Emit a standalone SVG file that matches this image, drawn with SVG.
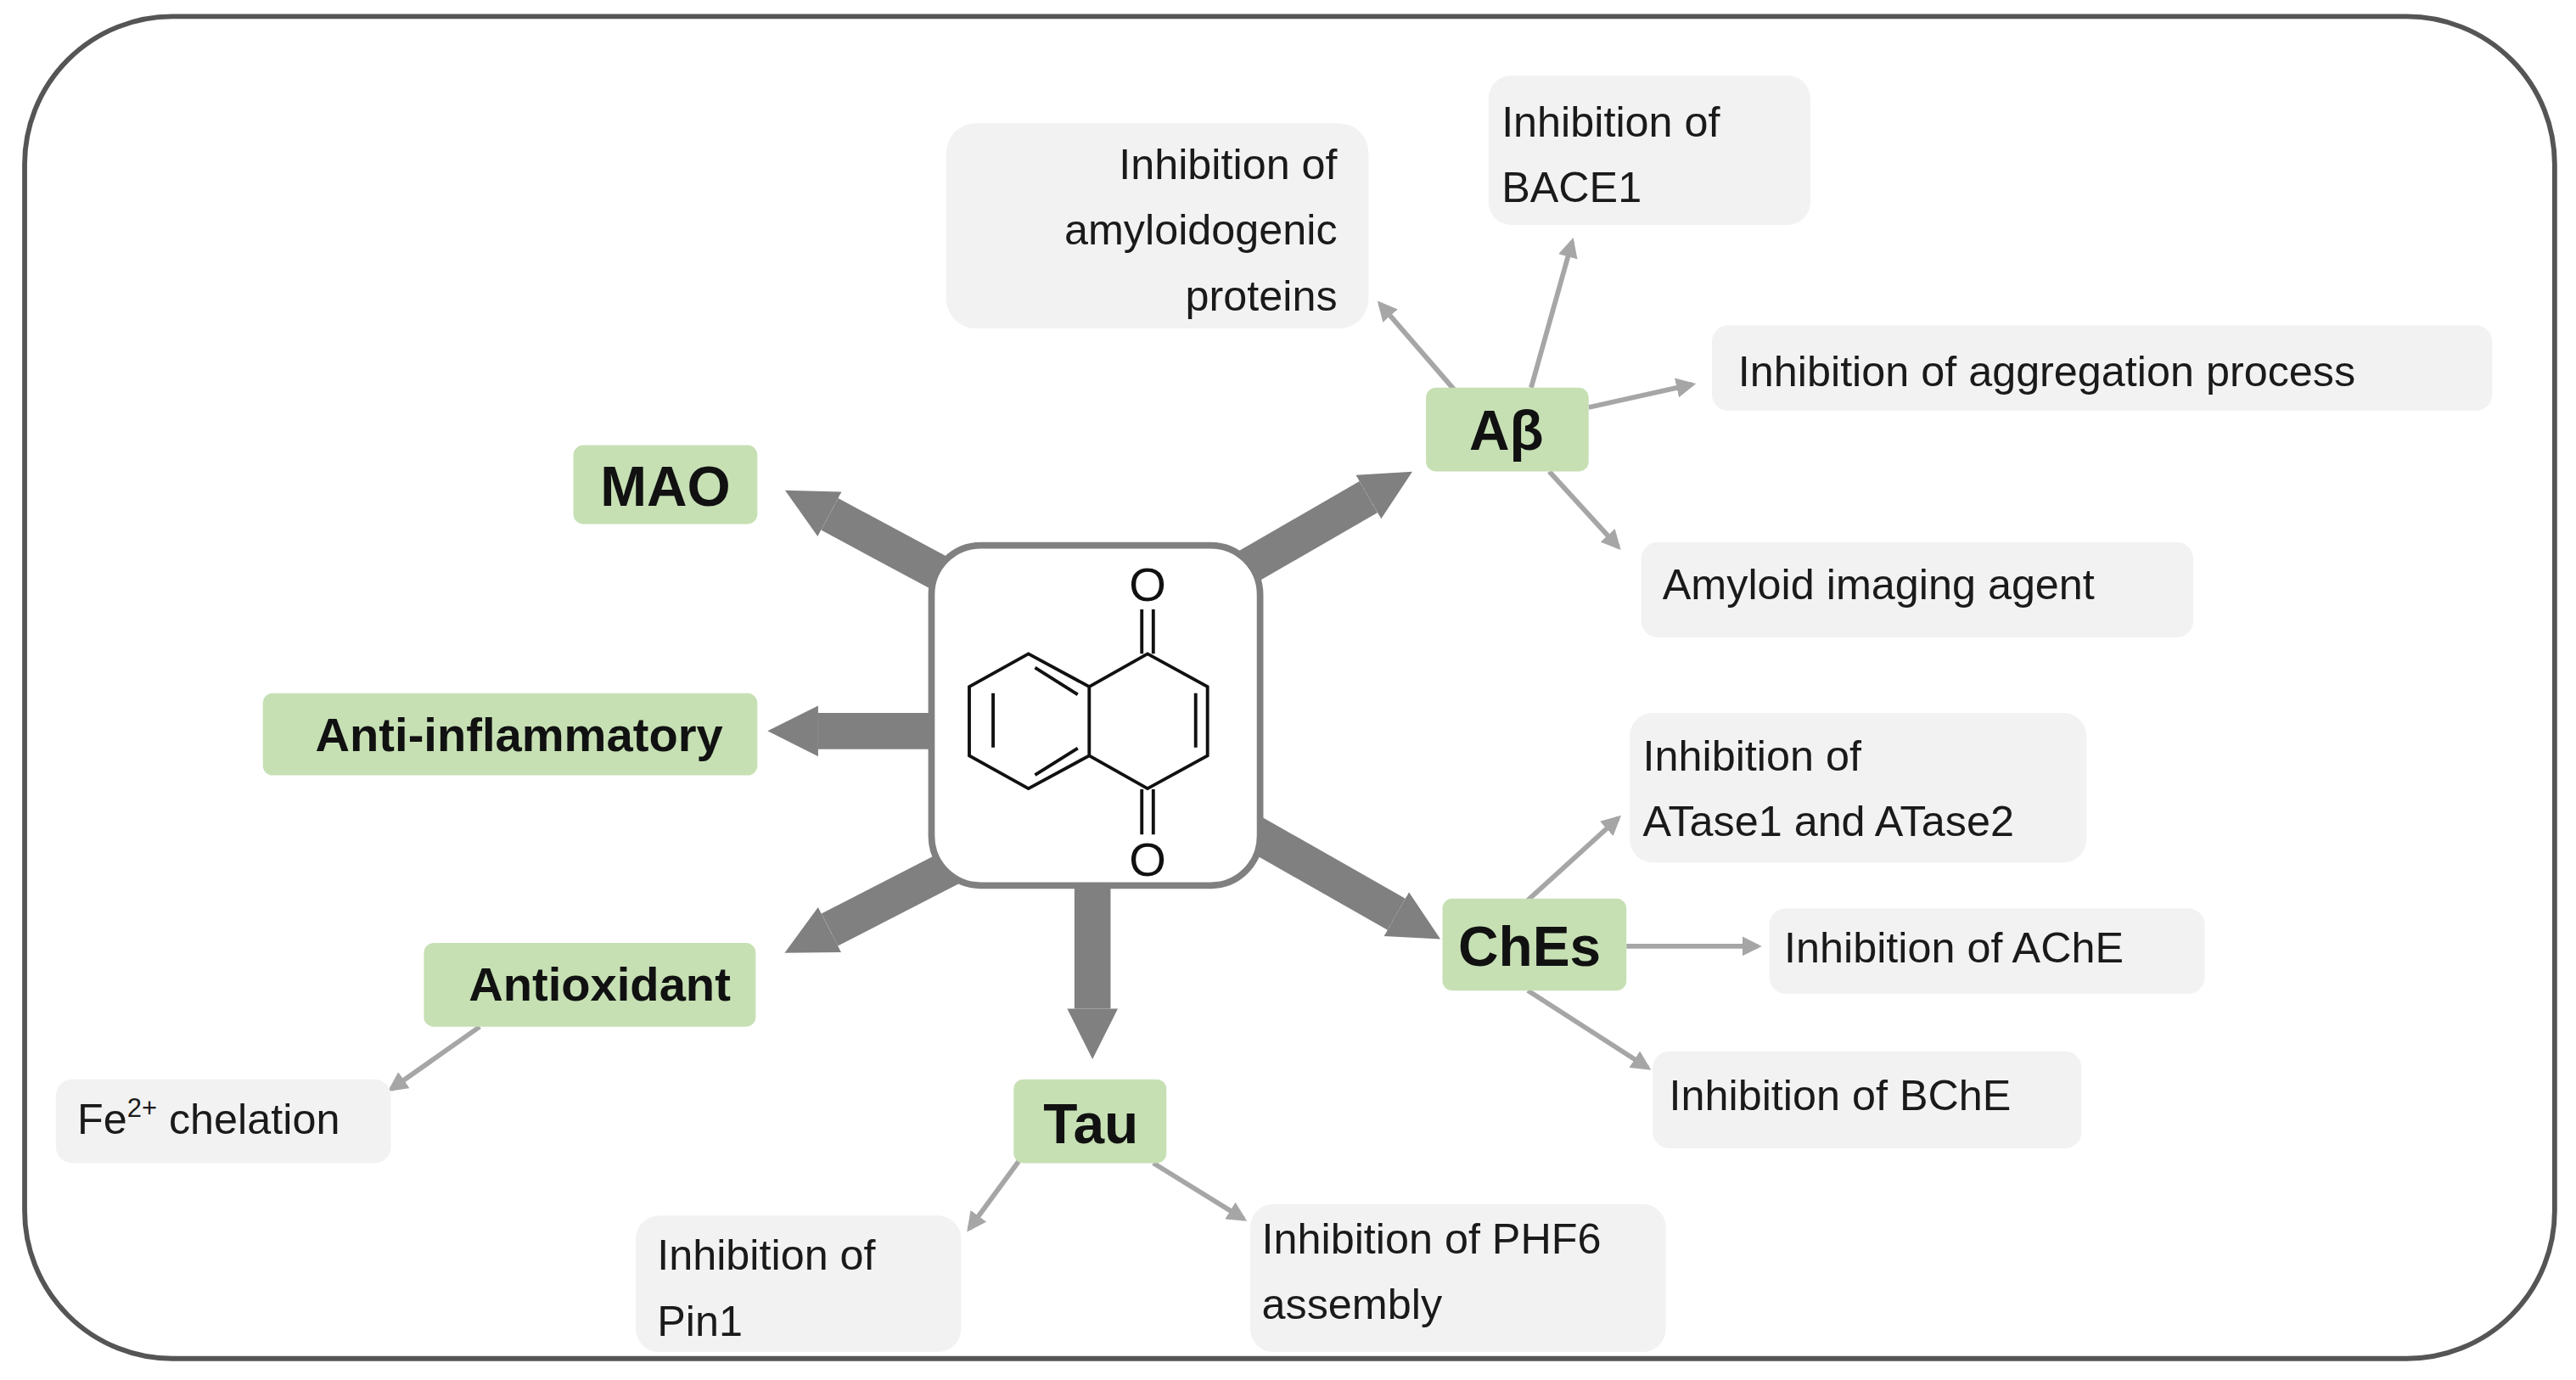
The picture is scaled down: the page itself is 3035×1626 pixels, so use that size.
<svg xmlns="http://www.w3.org/2000/svg" width="3035" height="1626" viewBox="0 0 3035 1626">
<style>
.g{fill:#c6e0b4}
.b{fill:#f2f2f2}
.t{font-family:"Liberation Sans",Arial,sans-serif;font-size:26px;fill:#1a1a1a}
.h{font-family:"Liberation Sans",Arial,sans-serif;font-weight:bold;fill:#111;text-anchor:middle}
.big{stroke:#808080;stroke-width:22;fill:none;marker-end:url(#bh)}
.thin{stroke:#a6a6a6;stroke-width:3;fill:none;marker-end:url(#th)}
.mol{stroke:#111;stroke-width:2;fill:none}
</style>
<defs>
<marker id="bh" viewBox="0 0 10 10" refX="0" refY="5" markerWidth="1.4" markerHeight="2.3" orient="auto" markerUnits="strokeWidth"><path d="M0,0L10,5L0,10z" fill="#808080"/></marker>
<marker id="th" viewBox="0 0 10 10" refX="8" refY="5" markerWidth="4" markerHeight="4" orient="auto" markerUnits="strokeWidth"><path d="M0,0L10,5L0,10z" fill="#a6a6a6"/></marker>
</defs>
<rect width="3035" height="1626" fill="#fff"/>
<g transform="scale(1.9356)">
<rect x="15" y="10" width="1540" height="817" rx="90" fill="#fff" stroke="#555" stroke-width="3"/>
<g id="connectors">
<line class="big" x1="600" y1="364" x2="505" y2="313"/>
<line class="big" x1="600" y1="445" x2="498" y2="445"/>
<line class="big" x1="610" y1="512" x2="505" y2="566"/>
<line class="big" x1="665" y1="520" x2="665" y2="614"/>
<line class="big" x1="730" y1="362" x2="833" y2="302.5"/>
<line class="big" x1="740" y1="494" x2="850" y2="556.5"/>
<line class="thin" x1="885" y1="237" x2="840" y2="185"/>
<line class="thin" x1="932" y1="236" x2="957" y2="147"/>
<line class="thin" x1="967" y1="248" x2="1030" y2="234"/>
<line class="thin" x1="943" y1="287" x2="985" y2="333"/>
<line class="thin" x1="930" y1="548" x2="985" y2="498"/>
<line class="thin" x1="990" y1="576" x2="1070" y2="576"/>
<line class="thin" x1="930" y1="603" x2="1003" y2="650"/>
<line class="thin" x1="620" y1="707" x2="590" y2="748"/>
<line class="thin" x1="702" y1="708" x2="757" y2="742"/>
<line class="thin" x1="292" y1="625" x2="238" y2="663"/>
</g>
<g id="center">
<rect x="567" y="332" width="200" height="207" rx="30" fill="#fff" stroke="#808080" stroke-width="4"/>
<path class="mol" d="M590,418L626,398L663,418L663,460L626,480L590,460Z M663,418L698.5,398L735,418L735,460L698.5,480L663,460 M604.5,422V455 M630,406.4L656,422.8 M630,471.8L656,455.5 M727.8,422V455 M695,371V398 M702,371V398 M695,480.5V508 M702,480.5V508"/>
<text x="698.5" y="366" font-family="Liberation Sans,Arial,sans-serif" font-size="29" text-anchor="middle" fill="#111">O</text>
<text x="698.5" y="533" font-family="Liberation Sans,Arial,sans-serif" font-size="29" text-anchor="middle" fill="#111">O</text>
</g>
<g id="mao"><rect class="g" x="349" y="271" width="112" height="48" rx="6"/><text class="h" x="405" y="308" font-size="34">MAO</text></g>
<g id="anti"><rect class="g" x="160" y="422" width="301" height="50" rx="6"/><text class="h" x="316" y="457" font-size="29">Anti-inflammatory</text></g>
<g id="antiox"><rect class="g" x="258" y="574" width="202" height="51" rx="6"/><text class="h" x="365" y="609" font-size="29">Antioxidant</text></g>
<g id="tau"><rect class="g" x="617" y="657" width="93" height="51" rx="6"/><text class="h" x="664" y="696" font-size="34">Tau</text></g>
<g id="abeta"><rect class="g" x="868" y="236" width="99" height="51" rx="6"/><text class="h" x="917" y="274" font-size="34">Aβ</text></g>
<g id="ches"><rect class="g" x="878" y="547" width="112" height="56" rx="6"/><text class="h" x="931" y="588" font-size="34">ChEs</text></g>
<g id="amyloido"><rect class="b" x="576" y="75" width="257" height="125" rx="18"/><text class="t" text-anchor="end"><tspan x="814" y="109">Inhibition of</tspan><tspan x="814" y="149">amyloidogenic</tspan><tspan x="814" y="189">proteins</tspan></text></g>
<g id="bace"><rect class="b" x="906" y="46" width="196" height="91" rx="14"/><text class="t"><tspan x="914" y="83">Inhibition of</tspan><tspan x="914" y="123">BACE1</tspan></text></g>
<g id="aggr"><rect class="b" x="1042" y="198" width="475" height="52" rx="10"/><text class="t" x="1058" y="235">Inhibition of aggregation process</text></g>
<g id="imaging"><rect class="b" x="999" y="330" width="336" height="58" rx="10"/><text class="t" x="1012" y="365">Amyloid imaging agent</text></g>
<g id="atase"><rect class="b" x="992" y="434" width="278" height="91" rx="14"/><text class="t"><tspan x="1000" y="469">Inhibition of</tspan><tspan x="1000" y="509">ATase1 and ATase2</tspan></text></g>
<g id="ache"><rect class="b" x="1077" y="553" width="265" height="52" rx="10"/><text class="t" x="1086" y="586">Inhibition of AChE</text></g>
<g id="bche"><rect class="b" x="1006" y="640" width="261" height="59" rx="10"/><text class="t" x="1016" y="676">Inhibition of BChE</text></g>
<g id="pin1"><rect class="b" x="387" y="740" width="198" height="83" rx="14"/><text class="t"><tspan x="400" y="773">Inhibition of</tspan><tspan x="400" y="813">Pin1</tspan></text></g>
<g id="phf6"><rect class="b" x="761" y="733" width="253" height="90" rx="14"/><text class="t"><tspan x="768" y="763">Inhibition of PHF6</tspan><tspan x="768" y="803">assembly</tspan></text></g>
<g id="fe"><rect class="b" x="34" y="657" width="204" height="51" rx="10"/><text class="t" x="47" y="690">Fe<tspan font-size="16" dy="-10">2+</tspan><tspan dy="10"> chelation</tspan></text></g>
</g>
</svg>
